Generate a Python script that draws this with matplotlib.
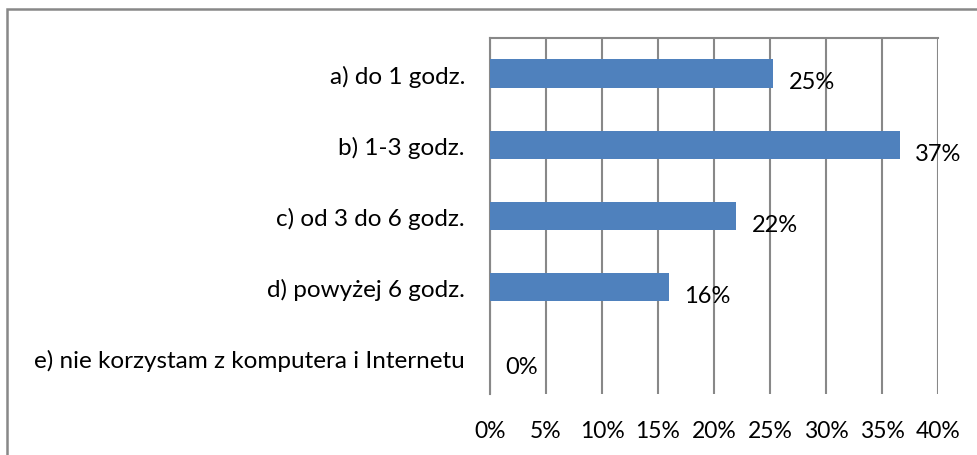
import matplotlib.pyplot as plt
from matplotlib.patches import Rectangle

# data
categories = [
    "a) do 1 godz.",
    "b) 1-3 godz.",
    "c) od 3 do 6 godz.",
    "d) powyżej 6 godz.",
    "e) nie korzystam z komputera i Internetu",
]
values = [25.3, 36.6, 22.0, 16.0, 0.0]
value_labels = ["25%", "37%", "22%", "16%", "0%"]
x_ticks = [0, 5, 10, 15, 20, 25, 30, 35, 40]
x_tick_labels = ["0%", "5%", "10%", "15%", "20%", "25%", "30%", "35%", "40%"]

plt.rcParams["font.family"] = ["Lato", "DejaVu Sans"]
FS = 17

fig = plt.figure(figsize=(9.78, 4.56), dpi=100)
ax = fig.add_axes([490 / 978, 1 - 395 / 456, 448 / 978, 356 / 456])

# outer chart border (right/bottom edges fall outside the image)
fig.patches.append(Rectangle((7 / 978, -0.05), 1.1, 1 - 10 / 456 + 0.05,
                             transform=fig.transFigure, fill=False,
                             edgecolor="#888888", linewidth=1.8))

ypos = list(range(len(categories)))
ax.barh(ypos, values, height=0.4, color="#4F81BD", zorder=3)

for y, v, lab in zip(ypos, values, value_labels):
    ax.annotate(lab, (v, y), xytext=(11, -6), textcoords="offset points",
                va="center", ha="left", fontsize=FS, color="#000000", zorder=4)

ax.set_xlim(0, 40)
ax.set_ylim(len(categories) - 0.5, -0.5)
ax.set_xticks(x_ticks)
ax.set_xticklabels(x_tick_labels, fontsize=FS - 0.5)
ax.set_yticks(ypos)
ax.set_yticklabels(categories, fontsize=FS + 0.5)
ax.tick_params(axis="x", length=0, pad=19)
ax.tick_params(axis="y", length=0, pad=18)

ax.grid(axis="x", color="#888888", linewidth=1.5, zorder=0)
for side in ["right", "bottom"]:
    ax.spines[side].set_visible(False)
for side in ["left", "top"]:
    ax.spines[side].set_color("#888888")
    ax.spines[side].set_linewidth(1.5)

fig.savefig("out.png", dpi=100)
